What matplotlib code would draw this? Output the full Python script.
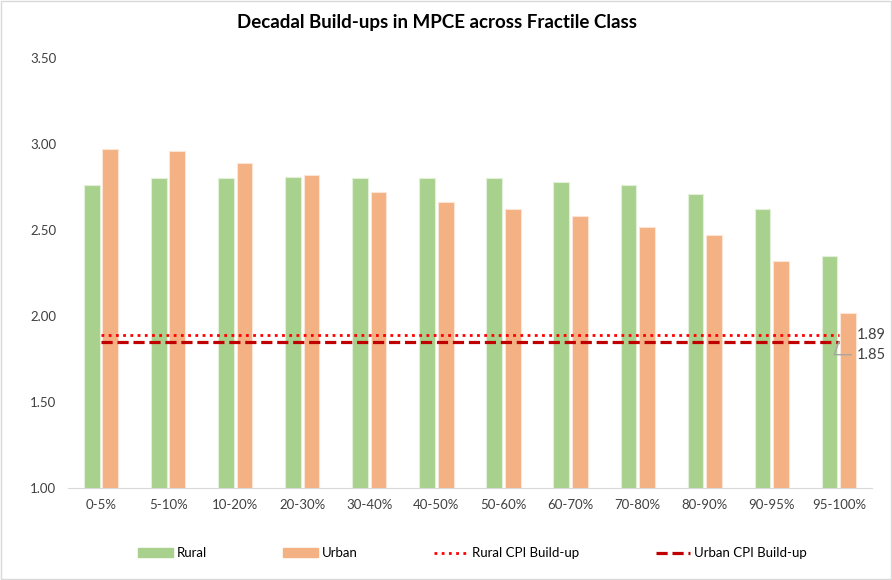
import numpy as np
import matplotlib.pyplot as plt
from matplotlib.lines import Line2D
from matplotlib.patches import Patch

plt.rcParams['font.family'] = ['Lato', 'DejaVu Sans']

classes = ["0-5%", "5-10%", "10-20%", "20-30%", "30-40%", "40-50%",
           "50-60%", "60-70%", "70-80%", "80-90%", "90-95%", "95-100%"]
rural = [2.76, 2.80, 2.80, 2.81, 2.80, 2.80, 2.80, 2.78, 2.76, 2.71, 2.62, 2.35]
urban = [2.97, 2.96, 2.89, 2.82, 2.72, 2.66, 2.62, 2.58, 2.52, 2.47, 2.32, 2.02]
rural_cpi = 1.89
urban_cpi = 1.85

green = "#A9D18E"
orange = "#F4B183"

fig = plt.figure(figsize=(8.92, 5.8), dpi=100)
ax = fig.add_axes([0.0757, 0.1586, 0.9023, 0.7414])

x = np.arange(len(classes))
w = 0.235
ax.bar(x - w / 2 - 0.02, rural, w, bottom=0, color=green, edgecolor="#E2F0D9", linewidth=0.8)
ax.bar(x + w / 2 + 0.02, urban, w, bottom=0, color=orange, edgecolor="#FBE5D6", linewidth=0.8)

ax.plot([x[0], x[-1]], [rural_cpi, rural_cpi], color="#FF0000", linestyle=(0, (1, 1.6)), linewidth=2)
ax.plot([x[0], x[-1]], [urban_cpi, urban_cpi], color="#C00000", linestyle=(0, (3.5, 1.5)), linewidth=2.3)

ax.text(x[-1] + 0.27, rural_cpi, "%.2f" % rural_cpi, va="center", ha="left", fontsize=10.5, color="#404040")
ax.annotate("%.2f" % urban_cpi, xy=(x[-1], urban_cpi), xytext=(x[-1] + 0.27, urban_cpi - 0.075),
            va="center", ha="left", fontsize=10.5, color="#404040",
            arrowprops=dict(arrowstyle="-", color="#A6A6A6", lw=1,
                            connectionstyle="angle,angleA=0,angleB=70,rad=0",
                            shrinkA=2, shrinkB=0))

ax.set_xlim(-0.5, len(classes) - 0.5)
ax.set_ylim(1.0, 3.5)
ax.set_yticks(np.arange(1.0, 3.51, 0.5))
ax.set_yticklabels(["%.2f" % v for v in np.arange(1.0, 3.51, 0.5)])
ax.set_xticks(x)
ax.set_xticklabels(classes)
ax.tick_params(axis="both", length=0, labelsize=9.5, labelcolor="#404040", pad=8)
for s in ["top", "right", "left"]:
    ax.spines[s].set_visible(False)
ax.spines["bottom"].set_color("#D9D9D9")

fig.text(0.49, 0.962, "Decadal Build-ups in MPCE across Fractile Class", ha="center", va="center",
         fontsize=13.5, fontweight="bold", color="#000000")

handles = [Patch(color=green), Patch(color=orange),
           Line2D([], [], color="#FF0000", linestyle=(0, (1, 1.6)), linewidth=2),
           Line2D([], [], color="#C00000", linestyle=(0, (3.5, 1.5)), linewidth=2.3)]
labels = ["Rural", "Urban", "Rural CPI Build-up", "Urban CPI Build-up"]
fig.legend(handles, labels, loc="center", bbox_to_anchor=(0.53, 0.046), ncol=4, frameon=False,
           fontsize=9.5, handlelength=2.6, handleheight=0.6, columnspacing=5.8, handletextpad=0.3)

fig.patches.append(plt.Rectangle((0.001, 0.001), 0.998, 0.998, transform=fig.transFigure,
                                 fill=False, edgecolor="#D9D9D9", linewidth=1))

fig.savefig("out.png", dpi=100)
